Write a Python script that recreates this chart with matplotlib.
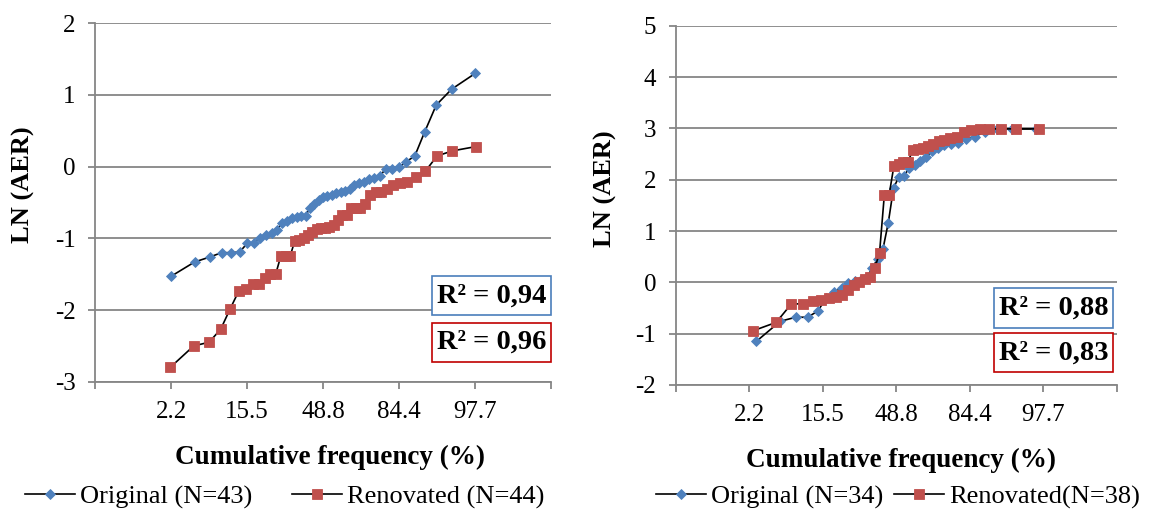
import matplotlib
matplotlib.use('Agg')
import matplotlib.pyplot as plt
from matplotlib.patches import Rectangle
import numpy as np
from statistics import NormalDist

plt.rcParams['font.family'] = ['Liberation Serif', 'DejaVu Serif']
plt.rcParams['axes.unicode_minus'] = False

BLUE = '#4F81BD'
RED = '#C0504D'
GRID = '#868686'

# tick labels of the normal-probability axis (z = -2 .. 2)
freq_labels = ['2.2', '15.5', '48.8', '84.4', '97.7']

# LN(AER), sorted
left_original = [-1.53, -1.33, -1.26, -1.20, -1.20, -1.19, -1.07, -1.06, -0.99, -0.95,
                 -0.93, -0.88, -0.78, -0.76, -0.72, -0.70, -0.69, -0.69, -0.57, -0.52,
                 -0.46, -0.42, -0.41, -0.39, -0.37, -0.35, -0.34, -0.31, -0.26, -0.23,
                 -0.21, -0.17, -0.16, -0.13, -0.03, -0.03, -0.01, 0.07, 0.15, 0.48,
                 0.86, 1.08, 1.30]
left_renovated = [-2.80, -2.50, -2.45, -2.27, -1.98, -1.74, -1.70, -1.63, -1.63, -1.56,
                  -1.50, -1.50, -1.25, -1.24, -1.24, -1.03, -1.02, -0.99, -0.95, -0.91,
                  -0.87, -0.86, -0.86, -0.84, -0.81, -0.74, -0.68, -0.67, -0.58, -0.58,
                  -0.57, -0.52, -0.40, -0.36, -0.35, -0.31, -0.26, -0.23, -0.21, -0.15,
                  -0.06, 0.15, 0.22, 0.28]
right_original = [-1.15, -0.76, -0.68, -0.68, -0.56, -0.30, -0.18, -0.12, -0.01, 0.02,
                  0.05, 0.08, 0.27, 0.46, 0.65, 1.16, 1.84, 2.05, 2.08, 2.23,
                  2.29, 2.36, 2.44, 2.55, 2.62, 2.67, 2.69, 2.72, 2.80, 2.84,
                  2.93, 2.98, 2.99, 2.99]
right_renovated = [-0.945, -0.78, -0.42, -0.42, -0.36, -0.35, -0.31, -0.28, -0.25, -0.14,
                   -0.05, 0.01, 0.06, 0.10, 0.27, 0.57, 1.70, 1.70, 2.26, 2.30,
                   2.34, 2.35, 2.58, 2.60, 2.61, 2.65, 2.69, 2.75, 2.78, 2.81,
                   2.83, 2.93, 2.97, 2.98, 2.99, 2.99, 2.99, 2.99]

left_labels = ['Original (N=43)', 'Renovated (N=44)']
right_labels = ['Original (N=34)', 'Renovated(N=38)']
left_r2 = ['R² = 0,94', 'R² = 0,96']
right_r2 = ['R² = 0,88', 'R² = 0,83']


def normal_scores(n):
    # cumulative frequency rank/(N+1), placed on a normal-quantile axis
    nd = NormalDist()
    return np.array([nd.inv_cdf(r / (n + 1)) for r in range(1, n + 1)])


def draw_panel(ax, original, renovated, ylim, labels, r2_texts, boxes):
    h1, = ax.plot(normal_scores(len(original)), original, color='black', lw=1.2,
                  marker='D', ms=5.2, mfc=BLUE, mec=BLUE, mew=0.6,
                  label=labels[0], zorder=3)
    h2, = ax.plot(normal_scores(len(renovated)), renovated, color='black', lw=1.2,
                  marker='s', ms=7.6, mfc=RED, mec=RED, mew=0.6,
                  label=labels[1], zorder=3)

    ax.set_xlim(-3, 3)
    ax.set_ylim(*ylim)
    ax.set_xticks(range(-3, 4))
    ax.set_xticklabels([''] + freq_labels + [''])
    ax.set_yticks(range(ylim[0], ylim[1] + 1))
    ax.grid(axis='y', color=GRID, lw=1.3)
    ax.set_axisbelow(True)
    for s in ('top', 'right'):
        ax.spines[s].set_visible(False)
    for s in ('left', 'bottom'):
        ax.spines[s].set_color(GRID)
        ax.spines[s].set_linewidth(1.3)
    ax.tick_params(length=5, width=1.3, color=GRID, labelsize=18, pad=9)

    ax.set_ylabel('LN (AER)', fontsize=19, fontweight='bold', va='center', ha='center')
    ax.set_xlabel('Cumulative frequency (%)', fontsize=19.5, fontweight='bold',
                  va='center', ha='center')

    # R² boxes: (x0, x1, y_top, y_bottom) in data units
    for (x0, x1, top, bot), txt, col in zip(boxes, r2_texts, ['#4A7EBB', '#C00000']):
        ax.add_patch(Rectangle((x0, bot), x1 - x0, top - bot, fc='white', ec=col,
                               lw=1.2, zorder=4, clip_on=False))
        ax.text((x0 + x1) / 2, (top + bot) / 2, txt, fontsize=20.5, fontweight='bold',
                ha='center', va='center', zorder=5)
    return [h1, h2]


fig = plt.figure(figsize=(11.56, 5.11), dpi=100)
ax_l = fig.add_axes([0.0822, 0.2530, 0.3945, 0.7014])
ax_r = fig.add_axes([0.5845, 0.2466, 0.3815, 0.7031])

hl = draw_panel(ax_l, left_original, left_renovated, (-3, 2), left_labels, left_r2,
                [(1.43, 3.0, -1.53, -2.07), (1.43, 3.0, -2.18, -2.72)])
hr = draw_panel(ax_r, right_original, right_renovated, (-2, 5), right_labels, right_r2,
                [(1.33, 2.95, -0.117, -0.887), (1.33, 2.95, -0.996, -1.746)])

ax_l.yaxis.set_label_coords(-0.156, 0.549)
ax_l.xaxis.set_label_coords(0.515, -0.210)
ax_r.yaxis.set_label_coords(-0.159, 0.547)
ax_r.xaxis.set_label_coords(0.512, -0.209)

fig.legend(hl, left_labels, loc='center', bbox_to_anchor=(0.2463, 0.0274), ncol=2,
           frameon=False, fontsize=19, handlelength=1.9, handletextpad=0.2,
           columnspacing=1.5, borderpad=0, borderaxespad=0)
fig.legend(hr, right_labels, loc='center', bbox_to_anchor=(0.7768, 0.0274), ncol=2,
           frameon=False, fontsize=19, handlelength=1.9, handletextpad=0.2,
           columnspacing=0.4, borderpad=0, borderaxespad=0)

fig.savefig('out.png', dpi=100)
